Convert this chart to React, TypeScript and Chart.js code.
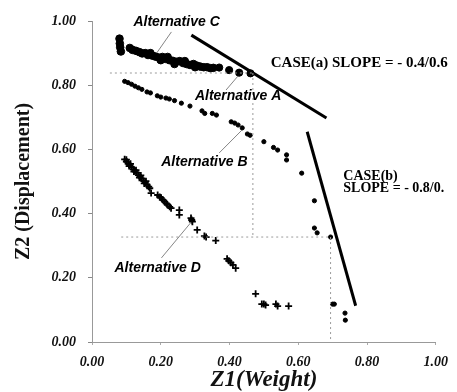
import React, { useEffect, useRef } from "react";
import { Chart, registerables } from "chart.js";
Chart.register(...registerables);

// [Z1 weight, Z2 displacement]
const altC: [number, number][] = [
  [0.08, 0.945], [0.081, 0.93], [0.082, 0.918], [0.084, 0.905], [0.11, 0.916], [0.118, 0.91],
  [0.128, 0.907], [0.138, 0.903], [0.146, 0.899], [0.155, 0.9], [0.163, 0.894],
  [0.17, 0.9], [0.176, 0.892], [0.185, 0.889], [0.194, 0.886], [0.2, 0.878],
  [0.205, 0.888], [0.214, 0.882], [0.22, 0.888], [0.225, 0.878], [0.235, 0.876],
  [0.24, 0.866], [0.245, 0.873], [0.255, 0.875], [0.265, 0.869], [0.27, 0.875],
  [0.275, 0.866], [0.285, 0.863], [0.295, 0.866], [0.3, 0.856], [0.305, 0.861],
  [0.315, 0.858], [0.325, 0.856], [0.335, 0.856], [0.345, 0.853], [0.353, 0.854],
];
const altA: [number, number][] = [
  [0.37, 0.855], [0.399, 0.847], [0.428, 0.839], [0.461, 0.837],
];
const altB: [number, number][] = [
  [0.095, 0.812], [0.105, 0.808], [0.115, 0.803], [0.125, 0.797], [0.135, 0.792],
  [0.145, 0.787], [0.16, 0.779], [0.17, 0.776], [0.19, 0.767], [0.2, 0.763],
  [0.215, 0.76], [0.225, 0.757], [0.24, 0.752], [0.26, 0.744], [0.285, 0.735],
  [0.32, 0.72], [0.328, 0.712], [0.35, 0.712], [0.362, 0.707], [0.405, 0.686],
  [0.415, 0.682], [0.425, 0.676], [0.437, 0.667], [0.452, 0.648], [0.46, 0.644],
  [0.5, 0.624], [0.528, 0.606], [0.54, 0.598], [0.566, 0.583], [0.566, 0.567],
  [0.61, 0.526], [0.647, 0.44], [0.647, 0.355], [0.655, 0.34], [0.694, 0.327],
  [0.7, 0.118], [0.705, 0.118], [0.736, 0.09], [0.737, 0.068],
];
const altD: [number, number][] = [
  [0.095, 0.569], [0.1, 0.562], [0.105, 0.556], [0.11, 0.551], [0.115, 0.545],
  [0.12, 0.538], [0.125, 0.533], [0.13, 0.527], [0.135, 0.52], [0.14, 0.515],
  [0.145, 0.509], [0.15, 0.502], [0.155, 0.497], [0.16, 0.49], [0.165, 0.484],
  [0.168, 0.479], [0.1, 0.568], [0.112, 0.555], [0.128, 0.535], [0.142, 0.519],
  [0.157, 0.501], [0.108, 0.548], [0.122, 0.531], [0.138, 0.512], [0.152, 0.494],
  [0.172, 0.464], [0.191, 0.458], [0.197, 0.452], [0.201, 0.449], [0.206, 0.443],
  [0.211, 0.437], [0.216, 0.432], [0.22, 0.427], [0.226, 0.421], [0.23, 0.417],
  [0.254, 0.411], [0.254, 0.396], [0.288, 0.386], [0.29, 0.38], [0.292, 0.375],
  [0.306, 0.349], [0.327, 0.33], [0.332, 0.327], [0.36, 0.316], [0.393, 0.259],
  [0.398, 0.253], [0.404, 0.247], [0.41, 0.24], [0.418, 0.23], [0.476, 0.15],
  [0.494, 0.118], [0.5, 0.118], [0.505, 0.115], [0.535, 0.118], [0.54, 0.112],
  [0.572, 0.112],
];
const caseA: [number, number][] = [[0.289, 0.956], [0.682, 0.698]];
const caseB: [number, number][] = [[0.626, 0.655], [0.767, 0.113]];
const refLines: [number, number][][] = [
  [[0.052, 0.838], [0.468, 0.838]],
  [[0.468, 0.838], [0.468, 0.327]],
  [[0.085, 0.327], [0.694, 0.327]],
  [[0.694, 0.327], [0.694, -0.025]],
];
const tickValues = [0, 0.2, 0.4, 0.6, 0.8, 1.0];

const labels = [
  { text: "Alternative C", x: 0.246, y: 0.997, font: "italic bold 14px 'Liberation Sans'", align: "center" },
  { text: "Alternative A", x: 0.425, y: 0.766, font: "italic bold 14px 'Liberation Sans'", align: "center" },
  { text: "Alternative B", x: 0.327, y: 0.561, font: "italic bold 14px 'Liberation Sans'", align: "center" },
  { text: "Alternative D", x: 0.191, y: 0.231, font: "italic bold 14px 'Liberation Sans'", align: "center" },
  { text: "CASE(a) SLOPE = - 0.4/0.6", x: 0.52, y: 0.869, font: "bold 15px 'Liberation Serif'", align: "left" },
  { text: "CASE(b)", x: 0.731, y: 0.517, font: "bold 14px 'Liberation Serif'", align: "left" },
  { text: "SLOPE = - 0.8/0.", x: 0.731, y: 0.478, font: "bold 14px 'Liberation Serif'", align: "left" },
];
const leaders: [number, number, number, number][] = [
  [0.231, 0.966, 0.188, 0.9],
  [0.39, 0.785, 0.425, 0.829],
  [0.37, 0.589, 0.436, 0.66],
  [0.202, 0.262, 0.289, 0.374],
];

const toPts = (a: [number, number][]) => a.map(([x, y]) => ({ x, y }));

const annotationPlugin = {
  id: "annot",
  afterDatasetsDraw(chart: any) {
    const { ctx, scales } = chart;
    const xs = scales.x, ys = scales.y;
    ctx.save();
    ctx.strokeStyle = "#666";
    ctx.lineWidth = 0.8;
    leaders.forEach(([x1, y1, x2, y2]) => {
      ctx.beginPath();
      ctx.moveTo(xs.getPixelForValue(x1), ys.getPixelForValue(y1));
      ctx.lineTo(xs.getPixelForValue(x2), ys.getPixelForValue(y2));
      ctx.stroke();
    });
    ctx.fillStyle = "#000";
    ctx.textBaseline = "middle";
    labels.forEach((l) => {
      ctx.font = l.font;
      ctx.textAlign = l.align;
      ctx.fillText(l.text, xs.getPixelForValue(l.x), ys.getPixelForValue(l.y));
    });
    ctx.restore();
  },
};

export default function App() {
  const ref = useRef<HTMLCanvasElement>(null);
  useEffect(() => {
    const refSets = refLines.map((seg) => ({
      type: "line" as const,
      data: toPts(seg),
      borderColor: "#9a9a9a",
      borderWidth: 1,
      borderDash: [2, 3],
      pointRadius: 0,
      showLine: true,
    }));
    const chart = new Chart(ref.current!, {
      type: "scatter",
      data: {
        datasets: [
          ...refSets,
          { label: "Alternative C", data: toPts(altC), pointStyle: "circle", pointRadius: 3.8, backgroundColor: "#000", borderColor: "#000" },
          { label: "Alternative A", data: toPts(altA), pointStyle: "circle", pointRadius: 3.6, backgroundColor: "#000", borderColor: "#000" },
          { label: "Alternative B", data: toPts(altB), pointStyle: "circle", pointRadius: 2.1, backgroundColor: "#000", borderColor: "#000" },
          { label: "Alternative D", data: toPts(altD), pointStyle: "cross", pointRadius: 3.5, borderWidth: 1.8, backgroundColor: "#000", borderColor: "#000" },
          { type: "line", label: "Case (a)", data: toPts(caseA), showLine: true, borderColor: "#000", borderWidth: 3, pointRadius: 0 },
          { type: "line", label: "Case (b)", data: toPts(caseB), showLine: true, borderColor: "#000", borderWidth: 3, pointRadius: 0 },
        ] as any,
      },
      options: {
        animation: false,
        responsive: false,
        devicePixelRatio: 1,
        layout: { padding: { left: 0, top: 21, right: 19, bottom: 0 } },
        plugins: { legend: { display: false }, tooltip: { enabled: false } },
        scales: {
          x: {
            type: "linear",
            min: 0,
            max: 1,
            afterFit: (s: any) => { s.height = 50; },
            afterBuildTicks: (s: any) => { s.ticks = tickValues.map((v) => ({ value: v })); },
            grid: { display: true, drawOnChartArea: false, tickLength: 3, color: "#aaa" },
            border: { display: true, color: "#999", dash: [2, 2], width: 1 },
            ticks: {
              padding: 9,
              color: "#111",
              font: { family: "'Liberation Serif'", size: 14, weight: "bold", style: "italic" },
              callback: (v: any) => Number(v).toFixed(2),
            },
            title: {
              display: true,
              text: "Z1(Weight)",
              color: "#111",
              padding: { top: 0, bottom: 0 },
              font: { family: "'Liberation Serif'", size: 23, weight: "bold", style: "italic", lineHeight: 1 },
            },
          },
          y: {
            type: "linear",
            min: 0,
            max: 1,
            afterFit: (s: any) => { s.width = 92; },
            afterBuildTicks: (s: any) => { s.ticks = tickValues.map((v) => ({ value: v })); },
            grid: { display: true, drawOnChartArea: false, tickLength: 4, color: "#888" },
            border: { display: true, color: "#999", dash: [2, 3], width: 1 },
            ticks: {
              padding: 12,
              color: "#111",
              font: { family: "'Liberation Serif'", size: 14, weight: "bold", style: "italic" },
              callback: (v: any) => Number(v).toFixed(2),
            },
            title: {
              display: true,
              text: "Z2 (Displacement)",
              color: "#111",
              padding: { top: 12, bottom: 0 },
              font: { family: "'Liberation Serif'", size: 20, weight: "bold", lineHeight: 1.2 },
            },
          },
        },
      },
      plugins: [annotationPlugin],
    });
    return () => chart.destroy();
  }, []);
  return (
    <div style={{ position: "absolute", left: 0, top: 0, width: 457, height: 392, background: "#fff" }}>
      <canvas ref={ref} width={457} height={392} style={{ display: "block" }} />
    </div>
  );
}
